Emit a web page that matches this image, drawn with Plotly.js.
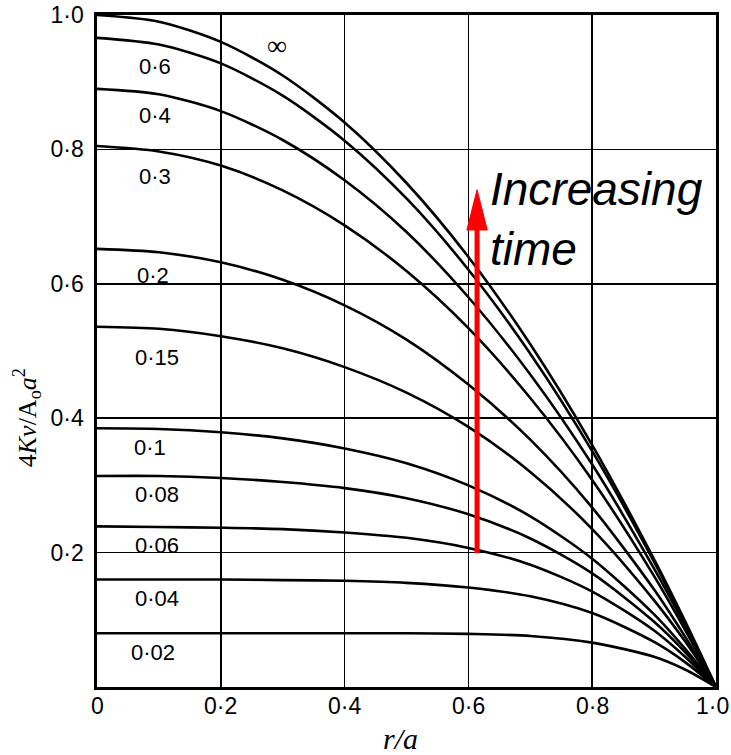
<!DOCTYPE html>
<html><head><meta charset="utf-8">
<script src="https://cdn.plot.ly/plotly-3.0.1.min.js"></script>
<style>html,body{margin:0;padding:0;background:#fff}</style>
</head><body>
<div id="chart" style="width:731px;height:755px"></div>
<script>
// r/a sample positions
const rOverA = [0, 0.1, 0.2, 0.3, 0.4, 0.5, 0.6, 0.7, 0.8, 0.9, 0.95, 1.0];
// 4Kv/(A0 a^2) for each value of the time parameter
const vInf = [1.000, 0.990, 0.960, 0.910, 0.840, 0.750, 0.640, 0.510, 0.360, 0.190, 0.098, 0];
const v060 = [0.966, 0.956, 0.928, 0.880, 0.813, 0.727, 0.621, 0.496, 0.351, 0.186, 0.095, 0];
const v040 = [0.890, 0.882, 0.857, 0.814, 0.754, 0.677, 0.580, 0.465, 0.331, 0.176, 0.091, 0];
const v030 = [0.805, 0.797, 0.776, 0.739, 0.687, 0.619, 0.534, 0.430, 0.308, 0.165, 0.085, 0];
const v020 = [0.652, 0.647, 0.632, 0.606, 0.568, 0.517, 0.450, 0.368, 0.267, 0.145, 0.075, 0];
const v015 = [0.536, 0.533, 0.522, 0.504, 0.476, 0.438, 0.387, 0.320, 0.235, 0.129, 0.068, 0];
const v010 = [0.385, 0.384, 0.379, 0.370, 0.355, 0.333, 0.300, 0.254, 0.191, 0.108, 0.057, 0];
const v008 = [0.314, 0.314, 0.311, 0.305, 0.296, 0.281, 0.257, 0.221, 0.169, 0.097, 0.052, 0];
const v006 = [0.239, 0.238, 0.237, 0.235, 0.230, 0.222, 0.207, 0.182, 0.142, 0.084, 0.045, 0];
const v004 = [0.160, 0.160, 0.160, 0.159, 0.158, 0.155, 0.148, 0.135, 0.110, 0.067, 0.037, 0];
const v002 = [0.080, 0.080, 0.080, 0.080, 0.080, 0.080, 0.079, 0.076, 0.066, 0.045, 0.026, 0];

const seriesNames = ['∞', '0·6', '0·4', '0·3', '0·2', '0·15', '0·1', '0·08', '0·06', '0·04', '0·02'];
const seriesValues = [vInf, v060, v040, v030, v020, v015, v010, v008, v006, v004, v002];

const xTickVals = [0, 0.2, 0.4, 0.6, 0.8, 1.0];
const xTickText = ['0', '0·2', '0·4', '0·6', '0·8', '1·0'];
const yTickVals = [0.2, 0.4, 0.6, 0.8, 1.0];
const yTickText = ['0·2', '0·4', '0·6', '0·8', '1·0'];

const traces = seriesValues.map((vals, i) => ({
  x: rOverA, y: vals, name: seriesNames[i], type: 'scatter', mode: 'lines',
  line: {color: '#000', width: 2.6, shape: 'spline', smoothing: 0.8},
  cliponaxis: false, hoverinfo: 'skip'
}));

// label placement (layout only)
const labelPlace = [
  [0.291, 0.955], [0.094, 0.923], [0.094, 0.851], [0.094, 0.759], [0.091, 0.613],
  [0.097, 0.491], [0.086, 0.357], [0.097, 0.286], [0.097, 0.211], [0.097, 0.132], [0.091, 0.052]
];
const tickFont = {family: 'Liberation Sans, Arial, sans-serif', size: 23, color: '#000'};
const annotations = seriesNames.map((nm, i) => ({
  x: labelPlace[i][0], y: labelPlace[i][1], xref: 'x', yref: 'y', text: nm, showarrow: false,
  font: i === 0 ? {family: 'Liberation Serif, serif', size: 28, color: '#000'}
                : {family: 'Liberation Sans, Arial, sans-serif', size: 22, color: '#000'},
  xanchor: 'center', yanchor: 'middle'
}));
// x tick labels drawn as annotations so the last one is not cut at the page edge
const xLabelPaperX = [0, 0.2, 0.4, 0.6, 0.8, 0.995];
xTickText.forEach((t, i) => annotations.push({
  x: xLabelPaperX[i], y: -0.0283, xref: 'paper', yref: 'paper', text: t, showarrow: false,
  xanchor: 'center', yanchor: 'middle', font: tickFont
}));
annotations.push({
  x: 0.632, y: 0.696, xref: 'x', yref: 'y', text: '<i>Increasing</i><br><i>time</i>',
  showarrow: false, align: 'left', xanchor: 'left', yanchor: 'middle',
  font: {family: 'Liberation Sans, Arial, sans-serif', size: 46, color: '#000'}
});
annotations.push({
  x: 0.49, y: -0.076, xref: 'paper', yref: 'paper', text: '<i>r/a</i>', showarrow: false,
  xanchor: 'center', yanchor: 'middle',
  font: {family: 'Liberation Serif, serif', size: 30, color: '#000'}
});
annotations.push({
  x: -0.113, y: 0.40, xref: 'paper', yref: 'paper', textangle: -90,
  text: '4<i>Kv</i>/A<sub>o</sub><i>a</i><sup>2</sup>', showarrow: false,
  xanchor: 'center', yanchor: 'middle',
  font: {family: 'Liberation Serif, serif', size: 26, color: '#000'}
});

const ax0 = 0.614, ayBase = 0.199, ayTip = 0.740;
const shapes = [
  {type: 'line', xref: 'x', yref: 'y', x0: ax0, x1: ax0, y0: ayBase, y1: ayTip - 0.05,
   line: {color: '#ff0000', width: 5}},
  {type: 'path', xref: 'x', yref: 'y',
   path: `M ${ax0} ${ayTip} L ${ax0 - 0.0165} ${ayTip - 0.06} L ${ax0 + 0.0165} ${ayTip - 0.06} Z`,
   fillcolor: '#ff0000', line: {color: '#ff0000', width: 1}}
];

const layout = {
  width: 731, height: 755,
  margin: {l: 97, r: 15, t: 15, b: 68, pad: 0},
  paper_bgcolor: '#fff', plot_bgcolor: '#fff',
  showlegend: false,
  xaxis: {range: [0, 1], tickvals: xTickVals, showticklabels: false, showgrid: true,
    gridcolor: '#000', gridwidth: 1.6, zeroline: false, showline: true, mirror: true,
    linecolor: '#000', linewidth: 2.6, ticks: '', fixedrange: true},
  yaxis: {range: [0, 1], tickvals: yTickVals, ticktext: yTickText, showgrid: true,
    gridcolor: '#000', gridwidth: 1.6, zeroline: false, showline: true, mirror: true,
    linecolor: '#000', linewidth: 2.6, ticks: '', tickfont: tickFont, ticklabelstandoff: 6,
    ticklabeloverflow: 'allow', fixedrange: true},
  annotations: annotations,
  shapes: shapes
};
Plotly.newPlot('chart', traces, layout, {staticPlot: true});
</script>
</body></html>
